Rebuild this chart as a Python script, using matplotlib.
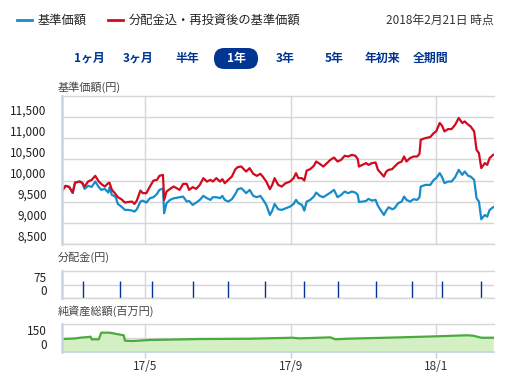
import numpy as np
import pandas as pd
import matplotlib
matplotlib.use('Agg')
import matplotlib.pyplot as plt
from matplotlib.lines import Line2D
from matplotlib.patches import FancyBboxPatch

plt.rcParams['font.family'] = ['Noto Sans CJK JP', 'DejaVu Sans']

# 2017-02-20 からの経過日数
START = pd.Timestamp('2017-02-20')
days = [0, 3, 6, 9, 11, 15, 17, 19, 22, 25, 28, 31, 33, 36, 39, 40, 42, 45, 47, 50,
        53, 56, 59, 61, 63, 66, 68, 71, 74, 77, 80, 82, 85, 86, 88, 91, 94, 99, 102, 105,
        107, 110, 113, 116, 119, 122, 125, 127, 130, 133, 135, 137, 140, 143, 146, 148, 151, 153, 155, 158,
        161, 164, 167, 169, 172, 175, 177, 179, 182, 185, 188, 192, 195, 197, 199, 202, 204, 206, 209, 212,
        214, 217, 220, 223, 226, 229, 232, 235, 238, 241, 244, 247, 249, 250, 253, 256, 258, 261, 264, 266,
        271, 273, 275, 278, 280, 283, 286, 288, 290, 293, 296, 299, 301, 302, 306, 310, 313, 315, 318, 320,
        322, 325, 328, 331, 334, 337, 339, 342, 344, 347, 349, 351, 353, 356, 358, 360, 363]

nav = [9756, 9875, 9851, 9709, 9953, 9977, 9953, 9804, 9875, 9851, 9977, 9844, 9780, 9804, 9716, 9840, 9661, 9621, 9448, 9384,
       9306, 9306, 9289, 9266, 9322, 9503, 9526, 9479, 9583, 9607, 9685, 9780, 9811, 9228, 9465, 9543, 9580, 9607, 9621, 9503,
       9519, 9424, 9479, 9543, 9638, 9583, 9543, 9607, 9607, 9583, 9638, 9543, 9503, 9559, 9685, 9796, 9820, 9763, 9702, 9780,
       9638, 9607, 9638, 9559, 9424, 9187, 9289, 9448, 9322, 9306, 9341, 9384, 9448, 9543, 9465, 9424, 9289, 9503, 9543, 9621,
       9716, 9638, 9607, 9661, 9716, 9780, 9607, 9661, 9740, 9702, 9740, 9716, 9661, 9495, 9503, 9519, 9567, 9526, 9543, 9401,
       9187, 9289, 9370, 9322, 9346, 9465, 9503, 9621, 9543, 9503, 9559, 9543, 9607, 9858, 9898, 9898, 10017, 10057, 10176, 10081,
       9939, 9977, 9977, 10081, 10254, 10135, 10214, 10112, 10095, 10017, 9583, 9503, 9085, 9187, 9147, 9306, 9370]

nav_reinv = [9756, 9875, 9851, 9709, 9953, 9977, 9940, 9858, 9977, 10017, 10112, 9977, 9922, 9858, 9939, 9950, 9780, 9685, 9607, 9559,
             9479, 9495, 9503, 9448, 9526, 9763, 9702, 9702, 9858, 10000, 10017, 10112, 10135, 9543, 9740, 9804, 9860, 9780, 9922, 9922,
             9780, 9844, 9804, 9898, 10057, 9977, 10017, 9977, 10057, 9977, 10033, 9939, 10017, 10095, 10270, 10318, 10332, 10270, 10214, 10294,
             10159, 10112, 10159, 10095, 9977, 9796, 9898, 10057, 9898, 9858, 9934, 9977, 10057, 10176, 10057, 10057, 10000, 10237, 10270, 10349,
             10451, 10396, 10332, 10413, 10491, 10545, 10451, 10491, 10586, 10569, 10609, 10586, 10507, 10332, 10372, 10413, 10372, 10413, 10427, 10254,
             10095, 10214, 10254, 10270, 10332, 10413, 10451, 10569, 10451, 10531, 10569, 10569, 10633, 10965, 11005, 11029, 11124, 11162, 11361, 11297,
             11162, 11218, 11218, 11320, 11479, 11361, 11399, 11320, 11280, 11162, 10728, 10650, 10294, 10413, 10372, 10531, 10609]

dist_days = [18, 49, 76, 110, 140, 171, 204, 232, 264, 295, 320, 353]
dist_yen = [95, 95, 95, 95, 95, 95, 95, 95, 95, 95, 95, 95]

asset_days = [0, 11, 15, 22, 24, 25, 31, 33, 40, 46, 52, 53, 60, 74, 88, 116, 158, 194, 200, 226,
              230, 242, 285, 315, 341, 346, 353, 363]
asset_mil = [139, 145, 153, 160, 164, 136, 136, 207, 207, 193, 179, 121, 118, 129, 132, 139, 142, 153, 146, 157,
             136, 143, 157, 168, 179, 175, 153, 153]

tick_dates = ['2017-05-01', '2017-09-01', '2018-01-01']
tick_labels = ['17/5', '17/9', '18/1']
periods = ['1ヶ月', '3ヶ月', '半年', '1年', '3年', '5年', '年初来', '全期間']

BLUE = '#168dca'
RED = '#d20a1e'
NAVY = '#003592'
GRID = '#d6d6d6'
SPINE = '#c6d4e4'
W, H = 509, 376


def fx(px):
    return px / W


def fy(py):
    return 1 - py / H


def to_dates(d):
    return START + pd.to_timedelta(d, unit='D')


fig = plt.figure(figsize=(W / 100, H / 100), dpi=100)
fig.patch.set_facecolor('white')

left, width = fx(62), fx(494) - fx(62)
ax = fig.add_axes([left, fy(244), width, (244 - 96) / H])
ax_d = fig.add_axes([left, fy(298), width, (298 - 271) / H])
ax_a = fig.add_axes([left, fy(352), width, (352 - 324) / H])

xmin, xmax = START, START + pd.Timedelta(days=363.7)
ticks = pd.to_datetime(tick_dates)

for a in (ax, ax_d, ax_a):
    a.set_xlim(xmin, xmax)
    a.set_xticks(ticks)
    a.grid(True, color=GRID, linewidth=1.0)
    a.set_axisbelow(True)
    for s in ('top', 'bottom'):
        a.spines[s].set_color(GRID)
        a.spines[s].set_linewidth(1.0)
    a.spines['right'].set_visible(False)
    a.spines['left'].set_color(SPINE)
    a.spines['left'].set_linewidth(1.8)
    a.tick_params(axis='y', length=0, pad=11, labelsize=8.5, labelcolor='#222222')
    a.tick_params(axis='x', length=0, labelbottom=False)

# 基準価額
ax.plot(to_dates(days), nav, color=BLUE, linewidth=1.6)
ax.plot(to_dates(days), nav_reinv, color=RED, linewidth=1.6)
ax.set_ylim(8500, 12000)
ax.set_yticks([8500, 9000, 9500, 10000, 10500, 11000, 11500])
ax.set_yticklabels(['8,500', '9,000', '9,500', '10,000', '10,500', '11,000', '11,500'])

# 分配金
ax_d.vlines(to_dates(dist_days), 0, dist_yen, color=NAVY, linewidth=1.0)
ax_d.set_ylim(0, 150)
ax_d.set_yticks([0, 75])
ax_d.set_yticklabels(['0', '75'])

# 純資産総額
ad = to_dates(asset_days)
ax_a.fill_between(ad, 0, asset_mil, color='#d3efc3', linewidth=0)
ax_a.plot(ad, asset_mil, color='#4aaa3e', linewidth=1.6)
ax_a.set_ylim(0, 300)
ax_a.set_yticks([0, 150])
ax_a.set_yticklabels(['0', '150'])
ax_a.spines['bottom'].set_color(SPINE)
ax_a.spines['bottom'].set_linewidth(1.2)
ax_a.tick_params(axis='x', length=4, width=1.0, color=SPINE, labelbottom=True,
                 labelsize=8.5, labelcolor='#333333', pad=1.5)
ax_a.set_xticklabels(tick_labels)

for a in (ax, ax_d, ax_a):
    for lab in a.get_yticklabels():
        lab.set_verticalalignment('bottom')

# 軸タイトル
fig.text(fx(58), fy(87), '基準価額(円)', fontsize=8, color='#444444', va='center')
fig.text(fx(58), fy(257), '分配金(円)', fontsize=8, color='#444444', va='center')
fig.text(fx(58), fy(311), '純資産総額(百万円)', fontsize=8, color='#444444', va='center')

# 凡例
fig.add_artist(Line2D([fx(17), fx(32)], [fy(20), fy(20)], color=BLUE, linewidth=2))
fig.text(fx(38), fy(20), '基準価額', fontsize=8.8, color='#222222', va='center')
fig.add_artist(Line2D([fx(108), fx(123)], [fy(20), fy(20)], color=RED, linewidth=2))
fig.text(fx(129), fy(20), '分配金込・再投資後の基準価額', fontsize=8.8, color='#222222', va='center')
fig.text(fx(494), fy(20), '2018年2月21日 時点', fontsize=8.5, color='#333333', va='center', ha='right')

# 期間ボタン
centers = [89, 138, 187, 236, 285.5, 334.5, 382, 431]
for label, cx in zip(periods, centers):
    if label == '1年':
        box = FancyBboxPatch((fx(214), fy(69)), fx(258) - fx(214), (69 - 48) / H,
                             boxstyle='round,pad=0,rounding_size=0.02',
                             transform=fig.transFigure, facecolor=NAVY, edgecolor='none',
                             mutation_aspect=W / H)
        fig.add_artist(box)
        fig.text(fx(cx), fy(58.5), label, fontsize=8.6, fontweight='bold', color='white',
                 ha='center', va='center')
    else:
        fig.text(fx(cx), fy(58.5), label, fontsize=8.6, fontweight='bold', color=NAVY,
                 ha='center', va='center')

fig.savefig('out.png', dpi=100)
